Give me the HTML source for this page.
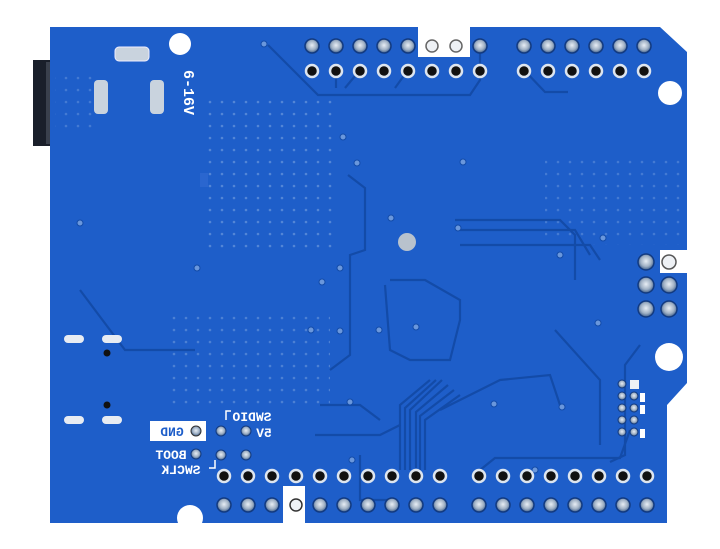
<!DOCTYPE html>
<html><head><meta charset="utf-8"><style>
html,body{margin:0;padding:0;background:#fff;width:720px;height:549px;overflow:hidden}
svg{display:block}
text{font-family:"Liberation Mono","DejaVu Sans Mono",monospace;font-weight:bold}
</style></head><body>
<svg width="720" height="549" viewBox="0 0 720 549" xmlns="http://www.w3.org/2000/svg">
<defs>
<radialGradient id="pad" cx="50%" cy="45%" r="55%"><stop offset="0" stop-color="#e8eef5"/><stop offset="0.6" stop-color="#9fb0c4"/><stop offset="1" stop-color="#3d5d8a"/></radialGradient>
<pattern id="dots" width="12" height="12" patternUnits="userSpaceOnUse"><circle cx="6" cy="6" r="1.3" fill="#6a97dc"/></pattern>
<clipPath id="bc"><path d="M50 27 H418 V57 H470 V27 H660 L687 52 V250 H660 V273 H687 V383 L667 405 V523 H305 V486 H283 V523 H50 Z"/></clipPath>
</defs>
<rect width="720" height="549" fill="#fff"/>
<rect x="33" y="60" width="20" height="86" fill="#1a1f2a"/>
<rect x="46" y="62" width="6" height="82" fill="#3a404c"/>
<path d="M50 27 H418 V57 H470 V27 H660 L687 52 V250 H660 V273 H687 V383 L667 405 V523 H305 V486 H283 V523 H50 Z" fill="#1e5ec9"/>
<g clip-path="url(#bc)">
<rect x="205" y="100" width="130" height="150" fill="url(#dots)" opacity="0.7"/>
<rect x="170" y="310" width="160" height="100" fill="url(#dots)" opacity="0.6"/>
<rect x="545" y="155" width="140" height="90" fill="url(#dots)" opacity="0.5"/>
<rect x="55" y="70" width="40" height="60" fill="url(#dots)" opacity="0.5"/>
<circle cx="180" cy="44" r="11" fill="#fff"/>
<circle cx="670" cy="93" r="12" fill="#fff"/>
<circle cx="669" cy="357" r="14" fill="#fff"/>
<circle cx="190" cy="518" r="13" fill="#fff"/>
<g fill="none" stroke="#134ba8" stroke-width="2.2">
<path d="M268 45 L318 95 H470 L480 80 V45"/>
<path d="M336 70 V88 M360 70 L345 88 M408 70 L395 88"/>
<path d="M524 70 L545 92 H568"/>
<path d="M80 290 L125 350 H195"/>
<path d="M348 175 L365 188 V250 L350 255 V355 L330 370"/>
<path d="M385 285 L390 350 L410 360 H450 L460 320 V300 L425 280 H390"/>
<path d="M455 220 H560 L575 235 V280"/>
<path d="M460 230 H575 L590 255"/>
<path d="M460 245 H590 L600 260"/>
<path d="M555 330 L600 380 V445"/>
<path d="M640 345 L625 365 V455 L610 462"/>
<path d="M430 380 L400 405 V470"/>
<path d="M436 380 L405 408 V470"/>
<path d="M442 380 L410 410 V470"/>
<path d="M448 385 L416 412 V468"/>
<path d="M454 390 L420 416 V470"/>
<path d="M460 395 L425 420 V470"/>
<path d="M440 410 L500 380 L550 375 L560 405"/>
<path d="M320 405 H360 L380 420 M315 435 H380 L400 425"/>
<path d="M480 470 L495 458 H620 L630 430"/>
<path d="M360 455 V500 H395"/>
</g>
</g>
<g fill="#6a97dc" stroke="#134ba8" stroke-width="1">
<circle cx="264" cy="44" r="3"/><circle cx="197" cy="268" r="3"/><circle cx="80" cy="223" r="3"/><circle cx="343" cy="137" r="3"/><circle cx="357" cy="163" r="3"/><circle cx="340" cy="268" r="3"/><circle cx="322" cy="282" r="3"/><circle cx="311" cy="330" r="3"/><circle cx="340" cy="331" r="3"/><circle cx="379" cy="330" r="3"/><circle cx="391" cy="218" r="3"/><circle cx="463" cy="162" r="3"/><circle cx="603" cy="238" r="3"/><circle cx="560" cy="255" r="3"/><circle cx="598" cy="323" r="3"/><circle cx="562" cy="407" r="3"/><circle cx="494" cy="404" r="3"/><circle cx="535" cy="470" r="3"/><circle cx="350" cy="402" r="3"/><circle cx="352" cy="460" r="3"/><circle cx="416" cy="327" r="3"/><circle cx="458" cy="228" r="3"/>
</g>
<g stroke="#123a80" stroke-width="1.5">
<circle cx="312" cy="46" r="7" fill="url(#pad)"/><circle cx="336" cy="46" r="7" fill="url(#pad)"/><circle cx="360" cy="46" r="7" fill="url(#pad)"/><circle cx="384" cy="46" r="7" fill="url(#pad)"/><circle cx="408" cy="46" r="7" fill="url(#pad)"/><circle cx="432" cy="46" r="6" fill="#eef1f5" stroke="#666"/><circle cx="456" cy="46" r="6" fill="#eef1f5" stroke="#666"/><circle cx="480" cy="46" r="7" fill="url(#pad)"/>
<circle cx="524" cy="46" r="7" fill="url(#pad)"/><circle cx="548" cy="46" r="7" fill="url(#pad)"/><circle cx="572" cy="46" r="7" fill="url(#pad)"/><circle cx="596" cy="46" r="7" fill="url(#pad)"/><circle cx="620" cy="46" r="7" fill="url(#pad)"/><circle cx="644" cy="46" r="7" fill="url(#pad)"/>
</g>
<g fill="#111" stroke="#dde5ef" stroke-width="2.5">
<circle cx="312" cy="71" r="6"/><circle cx="336" cy="71" r="6"/><circle cx="360" cy="71" r="6"/><circle cx="384" cy="71" r="6"/><circle cx="408" cy="71" r="6"/><circle cx="432" cy="71" r="6"/><circle cx="456" cy="71" r="6"/><circle cx="480" cy="71" r="6"/>
<circle cx="524" cy="71" r="6"/><circle cx="548" cy="71" r="6"/><circle cx="572" cy="71" r="6"/><circle cx="596" cy="71" r="6"/><circle cx="620" cy="71" r="6"/><circle cx="644" cy="71" r="6"/>
</g>
<g fill="#111" stroke="#dde5ef" stroke-width="2.5">
<circle cx="224" cy="476" r="6"/><circle cx="248" cy="476" r="6"/><circle cx="272" cy="476" r="6"/><circle cx="296" cy="476" r="6"/><circle cx="320" cy="476" r="6"/><circle cx="344" cy="476" r="6"/><circle cx="368" cy="476" r="6"/><circle cx="392" cy="476" r="6"/><circle cx="416" cy="476" r="6"/><circle cx="440" cy="476" r="6"/>
<circle cx="479" cy="476" r="6"/><circle cx="503" cy="476" r="6"/><circle cx="527" cy="476" r="6"/><circle cx="551" cy="476" r="6"/><circle cx="575" cy="476" r="6"/><circle cx="599" cy="476" r="6"/><circle cx="623" cy="476" r="6"/><circle cx="647" cy="476" r="6"/>
</g>
<g stroke="#123a80" stroke-width="1.5" fill="url(#pad)">
<circle cx="224" cy="505" r="7"/><circle cx="248" cy="505" r="7"/><circle cx="272" cy="505" r="7"/><circle cx="296" cy="505" r="6" fill="#eef1f5" stroke="#333"/><circle cx="320" cy="505" r="7"/><circle cx="344" cy="505" r="7"/><circle cx="368" cy="505" r="7"/><circle cx="392" cy="505" r="7"/><circle cx="416" cy="505" r="7"/><circle cx="440" cy="505" r="7"/>
<circle cx="479" cy="505" r="7"/><circle cx="503" cy="505" r="7"/><circle cx="527" cy="505" r="7"/><circle cx="551" cy="505" r="7"/><circle cx="575" cy="505" r="7"/><circle cx="599" cy="505" r="7"/><circle cx="623" cy="505" r="7"/><circle cx="647" cy="505" r="7"/>
</g>
<rect x="660" y="250" width="27" height="23" fill="#fff"/>
<g stroke="#123a80" stroke-width="1.5" fill="url(#pad)">
<circle cx="646" cy="262" r="8"/><circle cx="669" cy="262" r="7" fill="#eef1f5" stroke="#555"/>
<circle cx="646" cy="285" r="8"/><circle cx="669" cy="285" r="8"/>
<circle cx="646" cy="309" r="8"/><circle cx="669" cy="309" r="8"/>
</g>
<g stroke="#123a80" stroke-width="1" fill="url(#pad)">
<circle cx="622" cy="384" r="4"/><circle cx="622" cy="396" r="4"/><circle cx="622" cy="408" r="4"/><circle cx="622" cy="420" r="4"/><circle cx="622" cy="432" r="4"/>
<circle cx="634" cy="396" r="4"/><circle cx="634" cy="408" r="4"/><circle cx="634" cy="420" r="4"/><circle cx="634" cy="432" r="4"/>
</g>
<rect x="630" y="380" width="9" height="9" fill="#eef1f5"/>
<rect x="640" y="393" width="5" height="9" fill="#fff"/><rect x="640" y="405" width="5" height="9" fill="#fff"/><rect x="640" y="429" width="5" height="9" fill="#fff"/>
<rect x="115" y="47" width="34" height="14" rx="4" fill="#c9d3de" stroke="#eef" stroke-width="1"/>
<rect x="94" y="80" width="14" height="34" rx="4" fill="#c9d3de"/>
<rect x="150" y="80" width="14" height="34" rx="4" fill="#c9d3de"/>
<rect x="64" y="335" width="20" height="8" rx="4" fill="#e8ecf2"/>
<rect x="102" y="335" width="20" height="8" rx="4" fill="#e8ecf2"/>
<rect x="64" y="416" width="20" height="8" rx="4" fill="#e8ecf2"/>
<rect x="102" y="416" width="20" height="8" rx="4" fill="#e8ecf2"/>
<circle cx="107" cy="353" r="3.5" fill="#111"/><circle cx="107" cy="405" r="3.5" fill="#111"/>
<circle cx="407" cy="242" r="9" fill="#b8c2cd"/>
<rect x="200" y="173" width="8" height="14" fill="#2a66cf"/>
<text transform="translate(184,70) rotate(90)" fill="#fff" font-size="15" font-family="Liberation Sans" font-weight="bold">6-16V</text>
<rect x="150" y="421" width="56" height="20" fill="#fff"/>
<text transform="translate(172,436) scale(-1,1)" fill="#1e5ec9" font-size="13" text-anchor="middle">GND</text>
<circle cx="196" cy="431" r="5" fill="url(#pad)" stroke="#333"/>
<text transform="translate(252,421) scale(-1,1)" fill="#fff" font-size="13" text-anchor="middle">SWDIO</text>
<text transform="translate(264,437) scale(-1,1)" fill="#fff" font-size="13" text-anchor="middle">5V</text>
<text transform="translate(171,459) scale(-1,1)" fill="#fff" font-size="13" text-anchor="middle">BOOT</text>
<text transform="translate(181,474) scale(-1,1)" fill="#fff" font-size="13" text-anchor="middle">SWCLK</text>
<path d="M226 420 V411 H231 M209 468 H215 V460" stroke="#fff" stroke-width="1.5" fill="none"/>
<g fill="url(#pad)" stroke="#123a80"><circle cx="221" cy="431" r="5"/><circle cx="246" cy="431" r="5"/><circle cx="196" cy="454" r="5"/><circle cx="221" cy="455" r="5"/><circle cx="246" cy="455" r="5"/></g>
</svg>
</body></html>
